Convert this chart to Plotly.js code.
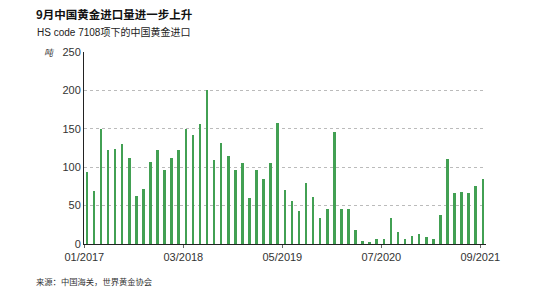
<!DOCTYPE html>
<html>
<head>
<meta charset="utf-8">
<script src="https://cdn.plot.ly/plotly-3.0.1.min.js"></script>
<style>html,body{margin:0;padding:0;background:#fff;}#chart{width:554px;height:292px;}</style>
</head>
<body>
<div id="chart"></div>
<script>
// Monthly China gold imports (tonnes), 01/2017 .. 09/2021
const months = [];
for (let y = 2017; y <= 2021; y++) {
  for (let m = 1; m <= 12; m++) {
    if (y === 2021 && m > 9) break;
    months.push((m < 10 ? '0' + m : '' + m) + '/' + y);
  }
}
const imports = [
  94, 69, 150, 122, 124, 130, 112, 62, 72, 107, 122, 96,
  112, 122, 150, 142, 156, 200, 110, 131, 115, 97, 105, 60,
  96, 85, 105, 158, 70, 56, 43, 79, 61, 34, 45, 146,
  45, 45, 18, 4, 3, 6, 6, 34, 16, 6, 11, 13,
  9, 6, 38, 111, 67, 68, 66, 76, 84
];
const tickLabels = ['01/2017', '03/2018', '05/2019', '07/2020', '09/2021'];

const idx = months.map((_, i) => i + 1);
const tickPos = tickLabels.map(l => months.indexOf(l) + 1 - 0.35);

const FONT = 'Liberation Sans, Arial, Noto Sans CJK SC, sans-serif';
const L = 84, R = 486, T = 52, B = 244;
const px = x => (x - L) / (R - L);
const py = y => (B - y) / (B - T);

const trace = {
  type: 'bar',
  x: idx,
  y: imports,
  width: 0.36,
  marker: {color: '#42a053', line: {width: 0}},
  hoverinfo: 'y'
};

const layout = {
  width: 554, height: 292,
  margin: {l: L, r: 554 - R, t: T, b: 292 - B},
  paper_bgcolor: '#fff', plot_bgcolor: '#fff',
  font: {family: FONT, size: 11, color: '#333'},
  showlegend: false,
  bargap: 0,
  xaxis: {
    range: [0.6, 57.45],
    tickvals: tickPos,
    ticktext: tickLabels,
    showgrid: false, zeroline: false,
    showline: true, linecolor: '#222', linewidth: 1,
    ticks: 'outside', ticklen: 3, tickcolor: '#666',
    tickfont: {size: 11, color: '#333', family: FONT}
  },
  yaxis: {
    range: [0, 250],
    tickvals: [0, 50, 100, 150, 200, 250],
    showgrid: true, gridcolor: '#bbb', griddash: 'dot', gridwidth: 1,
    zeroline: false,
    showline: true, linecolor: '#222', linewidth: 1,
    ticks: '', ticklen: 0,
    tickfont: {size: 11, color: '#333', family: FONT}
  },
  annotations: [
    {text: '<b>9月中国黄金进口量进一步上升</b>', xref: 'paper', yref: 'paper',
     x: px(34), y: py(14), xanchor: 'left', yanchor: 'middle', showarrow: false,
     font: {size: 11.5, color: '#111', family: 'Noto Sans CJK SC, Liberation Sans, sans-serif'}},
    {text: 'HS code 7108项下的中国黄金进口', xref: 'paper', yref: 'paper',
     x: px(35), y: py(32), xanchor: 'left', yanchor: 'middle', showarrow: false,
     font: {size: 10, color: '#222', family: FONT}},
    {text: '<i>吨</i>', xref: 'paper', yref: 'paper',
     x: px(49), y: py(52), xanchor: 'center', yanchor: 'middle', showarrow: false,
     font: {size: 9, color: '#333', family: 'Noto Sans CJK SC, sans-serif'}},
    {text: '来源：中国海关，世界黄金协会', xref: 'paper', yref: 'paper',
     x: px(34), y: py(281), xanchor: 'left', yanchor: 'middle', showarrow: false,
     font: {size: 8.3, color: '#333', family: 'Noto Sans CJK SC, sans-serif'}}
  ]
};

Plotly.newPlot('chart', [trace], layout, {displayModeBar: false, staticPlot: true});
</script>
</body>
</html>
